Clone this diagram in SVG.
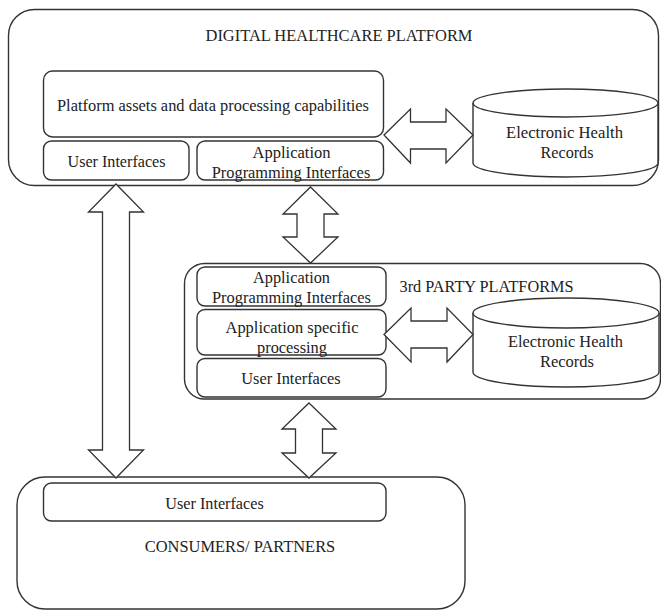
<svg xmlns="http://www.w3.org/2000/svg" width="661" height="611" viewBox="0 0 661 611" font-family="Liberation Serif, Times New Roman, serif" font-size="17.5">
<style>
.box{fill:#fff;stroke:#333;stroke-width:1.4}
.inner{fill:#fff;stroke:#333;stroke-width:1.4}
.arrow{fill:#fff;stroke:#333;stroke-width:1.3;stroke-linejoin:miter}
.cyl{fill:#fff;stroke:#333;stroke-width:1.4}
.t{fill:#222;text-anchor:middle}
</style>
<rect width="661" height="611" fill="#fff"/>
<g id="digital-platform">
<rect class="box" x="8.5" y="9.5" width="650" height="176" rx="26"/>
<text class="t" x="339" y="40.5" textLength="267" lengthAdjust="spacingAndGlyphs">DIGITAL HEALTHCARE PLATFORM</text>
</g>
<g id="platform-assets">
<rect class="inner" x="43.5" y="71" width="340" height="66" rx="9"/>
<text class="t" x="213" y="110.5" textLength="312" lengthAdjust="spacingAndGlyphs">Platform assets and data processing capabilities</text>
</g>
<g id="dhp-user-interfaces">
<rect class="inner" x="43.5" y="141" width="145.5" height="39" rx="8"/>
<text class="t" x="116.5" y="166.5" textLength="98" lengthAdjust="spacingAndGlyphs">User Interfaces</text>
</g>
<g id="dhp-api">
<rect class="inner" x="197" y="141" width="186.5" height="39" rx="8"/>
<text class="t" x="291.5" y="157.5" textLength="78" lengthAdjust="spacingAndGlyphs">Application</text>
<text class="t" x="291" y="177.5" textLength="158.5" lengthAdjust="spacingAndGlyphs">Programming Interfaces</text>
</g>
<g id="dhp-ehr">
<path class="cyl" d="M473,103 L473,163 A92.5,14 0 0 0 658,163 L658,103"/>
<ellipse class="cyl" cx="565.5" cy="103" rx="92.5" ry="14"/>
<text class="t" x="564.5" y="137.5" textLength="117" lengthAdjust="spacingAndGlyphs">Electronic Health</text>
<text class="t" x="567" y="157.5" textLength="53" lengthAdjust="spacingAndGlyphs">Records</text>
</g>
<g id="third-party">
<rect class="box" x="184.5" y="263.5" width="476" height="135.5" rx="20"/>
<text class="t" x="486.5" y="291.5" textLength="174" lengthAdjust="spacingAndGlyphs">3rd PARTY PLATFORMS</text>
</g>
<g id="tp-api">
<rect class="inner" x="197" y="267" width="189" height="39" rx="8"/>
<text class="t" x="291.5" y="282.5" textLength="77" lengthAdjust="spacingAndGlyphs">Application</text>
<text class="t" x="291.5" y="302.5" textLength="159" lengthAdjust="spacingAndGlyphs">Programming Interfaces</text>
</g>
<g id="tp-processing">
<rect class="inner" x="197" y="309.5" width="189" height="45.5" rx="8"/>
<text class="t" x="292" y="332.5" textLength="133" lengthAdjust="spacingAndGlyphs">Application specific</text>
<text class="t" x="292" y="352.5" textLength="70" lengthAdjust="spacingAndGlyphs">processing</text>
</g>
<g id="tp-user-interfaces">
<rect class="inner" x="197" y="358.5" width="189" height="38.5" rx="8"/>
<text class="t" x="291" y="383.5" textLength="99.5" lengthAdjust="spacingAndGlyphs">User Interfaces</text>
</g>
<g id="tp-ehr">
<path class="cyl" d="M473,313 L473,372 A93,15 0 0 0 659,372 L659,313"/>
<ellipse class="cyl" cx="566" cy="313" rx="93" ry="15"/>
<text class="t" x="565.5" y="346.5" textLength="115" lengthAdjust="spacingAndGlyphs">Electronic Health</text>
<text class="t" x="567" y="366.5" textLength="54" lengthAdjust="spacingAndGlyphs">Records</text>
</g>
<g id="consumers">
<rect class="box" x="17" y="477" width="448" height="132" rx="28"/>
<text class="t" x="240" y="551.5" textLength="190.5" lengthAdjust="spacingAndGlyphs">CONSUMERS/ PARTNERS</text>
</g>
<g id="consumer-user-interfaces">
<rect class="inner" x="43.5" y="483" width="342.5" height="38" rx="8"/>
<text class="t" x="214.5" y="508.5" textLength="98.5" lengthAdjust="spacingAndGlyphs">User Interfaces</text>
</g>
<g id="connectors">
<polygon class="arrow" points="116,184 143.5,212 129.5,212 129.5,450 143.5,450 116,478 88.5,450 102.5,450 102.5,212 88.5,212"/>
<polygon class="arrow" points="310.5,187 338,214 324,214 324,237 338,237 310.5,263 283,237 297,237 297,214 283,214"/>
<polygon class="arrow" points="309,403 336,429 322.5,429 322.5,453 336,453 309,478 282,453 295.5,453 295.5,429 282,429"/>
<polygon class="arrow" points="384,135 410.5,109 410.5,122 446,122 446,109 473,135 446,163 446,149 410.5,149 410.5,163"/>
<polygon class="arrow" points="384,334.5 411,308 411,321 447,321 447,308 473,334.5 447,362 447,348 411,348 411,362"/>
</g>
</svg>
